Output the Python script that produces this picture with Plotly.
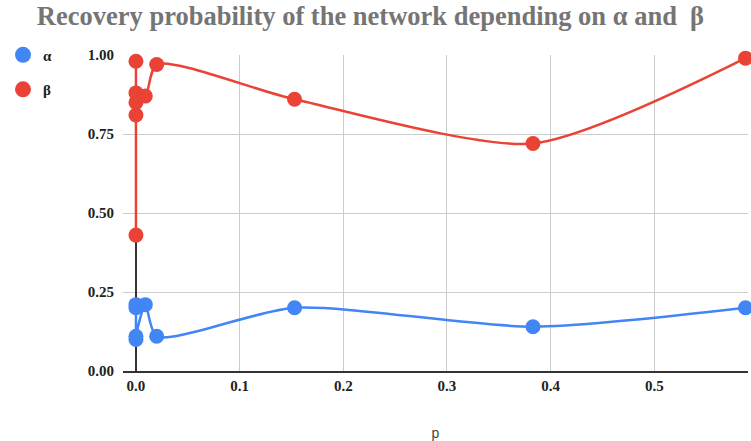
import plotly.graph_objects as go

# recovery probability vs p (points listed in sheet order)
p_alpha = [0.0, 0.0, 0.0, 0.0, 0.009, 0.020, 0.153, 0.383, 0.588]
alpha = [0.21, 0.20, 0.10, 0.11, 0.21, 0.11, 0.20, 0.14, 0.20]

p_beta = [0.0, 0.0, 0.0, 0.0, 0.0, 0.009, 0.020, 0.153, 0.383, 0.588]
beta = [0.98, 0.43, 0.81, 0.85, 0.88, 0.87, 0.97, 0.86, 0.72, 0.99]

x_ticks = [0.0, 0.1, 0.2, 0.3, 0.4, 0.5]
y_ticks = [0.0, 0.25, 0.5, 0.75, 1.0]

BLUE = "#4285F4"
RED = "#EA4335"
serif = "Liberation Serif"

fig = go.Figure()
for name, xs, ys, color in [("α", p_alpha, alpha, BLUE), ("β", p_beta, beta, RED)]:
    fig.add_trace(go.Scatter(
        x=xs, y=ys, mode="lines+markers", name=name, legendgroup=name,
        showlegend=False, cliponaxis=False,
        line=dict(color=color, width=2.5, shape="spline", smoothing=0.7),
        marker=dict(color=color, size=15),
    ))
    # legend entry shown as a plain dot
    fig.add_trace(go.Scatter(
        x=[None], y=[None], mode="markers", name=name, legendgroup=name,
        marker=dict(color=color, size=16),
    ))

fig.update_layout(
    width=751, height=441,
    margin=dict(l=121, r=3, t=55, b=70),
    paper_bgcolor="white", plot_bgcolor="white",
    title=dict(
        text="Recovery probability of the network depending on α and  β",
        x=0.4933, xanchor="center", y=0.985, yanchor="top",
        font=dict(family=serif, size=26.5, color="#757575", weight="bold"),
    ),
    legend=dict(
        x=-0.192, xanchor="left", y=1.052, yanchor="top",
        font=dict(family=serif, size=15, color="#222222", weight="bold"),
        itemsizing="trace", tracegroupgap=12,
        bgcolor="rgba(0,0,0,0)",
    ),
    xaxis=dict(
        range=[-0.0125, 0.5904], tickvals=x_ticks, tickformat=".1f",
        showgrid=True, gridcolor="#cccccc", gridwidth=1,
        zeroline=True, zerolinecolor="#333333", zerolinewidth=1.5,
        showline=True, linecolor="#333333", linewidth=1.5,
        tickfont=dict(family=serif, size=15, color="#222222", weight="bold"),
        title=dict(text="p", font=dict(family="Liberation Sans", size=14, color="#444444"), standoff=35),
        ticks="",
    ),
    yaxis=dict(
        range=[0, 1], tickvals=y_ticks, tickformat=".2f",
        showgrid=True, gridcolor="#cccccc", gridwidth=1,
        zeroline=False, showline=False,
        tickfont=dict(family=serif, size=15, color="#222222", weight="bold"),
        ticks="", ticklabelstandoff=8,
    ),
)

fig.write_html("out.html")
